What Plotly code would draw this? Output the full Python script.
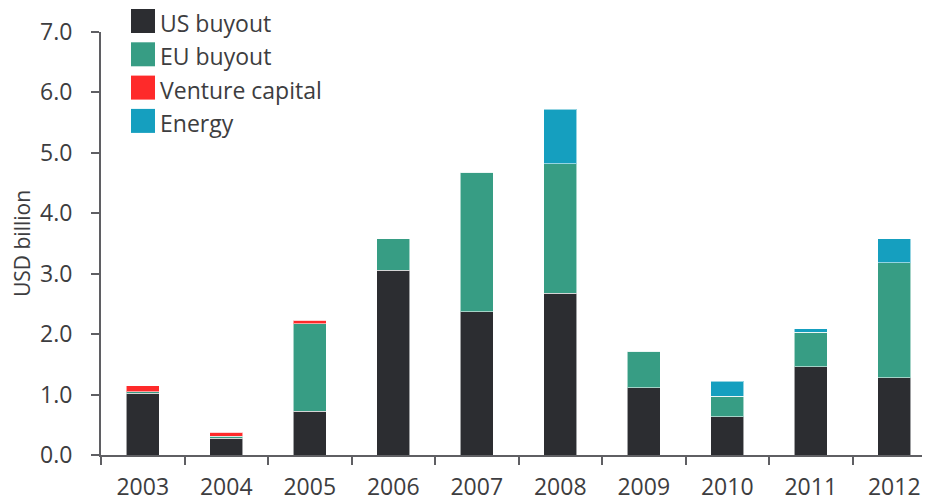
import plotly.graph_objects as go

years = ["2003", "2004", "2005", "2006", "2007", "2008", "2009", "2010", "2011", "2012"]
us_buyout = [1.02, 0.28, 0.72, 3.06, 2.37, 2.68, 1.11, 0.63, 1.46, 1.28]
eu_buyout = [0.03, 0.03, 1.45, 0.52, 2.31, 2.14, 0.61, 0.34, 0.57, 1.90]
venture_capital = [0.10, 0.07, 0.06, 0, 0, 0, 0, 0, 0, 0]
energy = [0, 0, 0, 0, 0, 0.90, 0, 0.25, 0.06, 0.40]
series_names = ["US buyout", "EU buyout", "Venture capital", "Energy"]
series_values = [us_buyout, eu_buyout, venture_capital, energy]
colors = ["#2c2d31", "#379d84", "#fe2a2a", "#159fbf"]
y_ticks = [0, 1, 2, 3, 4, 5, 6, 7]
y_tick_labels = ["0.0", "1.0", "2.0", "3.0", "4.0", "5.0", "6.0", "7.0"]

# page body has an 8px margin; figure coords = image coords - 8
OFF = 8
W, H = 930 - OFF, 502 - OFF
L, R, T, B = 101 - OFF, 0, 32 - OFF, 502 - 455
pw, ph = W - L - R, H - T - B
FONT = "Open Sans"
TXT = "#3d3d40"
AX = "#5f5f63"

fig = go.Figure()
for name, vals, col in zip(series_names, series_values, colors):
    fig.add_trace(go.Bar(
        x=years, y=vals, name=name, width=0.4,
        marker=dict(color=col, line=dict(color="rgba(255,255,255,0.55)", width=1)),
        showlegend=False,
    ))

# manual legend with large swatches (image pixel coords)
def px_x(p):
    return (p - OFF - L) / pw

def px_y(p):
    return (T + ph - (p - OFF)) / ph

for i, (name, col) in enumerate(zip(series_names, colors)):
    top = 9 + i * 33.3
    fig.add_shape(type="rect", xref="paper", yref="paper",
                  x0=px_x(131), x1=px_x(155), y0=px_y(top + 24), y1=px_y(top),
                  fillcolor=col, line=dict(width=0))
    fig.add_annotation(xref="paper", yref="paper", x=px_x(159), y=px_y(top + 14),
                       text=name, showarrow=False, xanchor="left", yanchor="middle",
                       borderpad=0,
                       font=dict(family=FONT, size=23, color=TXT))

fig.update_layout(
    barmode="stack",
    width=W, height=H,
    margin=dict(l=L, r=R, t=T, b=B, pad=0, autoexpand=False),
    plot_bgcolor="white", paper_bgcolor="white",
    font=dict(family=FONT, size=23, color=TXT),
)
fig.update_xaxes(
    type="category", range=[-0.5, -0.5 + pw / 83.5], automargin=False,
    showline=True, linecolor=AX, linewidth=2,
    ticks="outside", tickson="boundaries", ticklen=8, tickcolor=AX, tickwidth=2,
    showgrid=False, zeroline=False,
    ticklabelstandoff=10,
    tickfont=dict(family=FONT, size=23, color=TXT),
)
fig.update_yaxes(
    range=[0, 7], tickvals=y_ticks, ticktext=y_tick_labels, automargin=False,
    showline=True, linecolor=AX, linewidth=2,
    ticks="outside", ticklen=8, tickcolor=AX, tickwidth=2,
    showgrid=False, zeroline=False,
    ticklabelstandoff=14,
    tickfont=dict(family=FONT, size=23, color=TXT),
    title=dict(text="USD billion", standoff=10, font=dict(family=FONT, size=21, color=TXT)),
)

fig.write_html("out.html")
